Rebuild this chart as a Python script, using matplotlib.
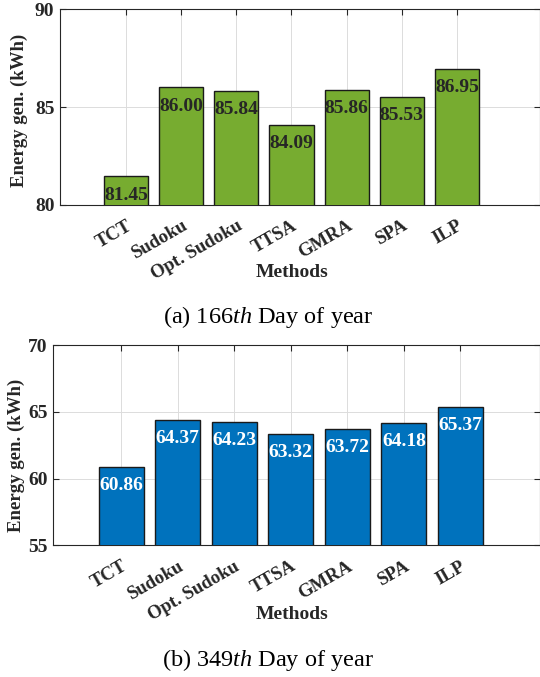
import numpy as np
import matplotlib
matplotlib.use("Agg")
import matplotlib.pyplot as plt

plt.rcParams['font.family'] = ['Liberation Serif', 'DejaVu Serif']
plt.rcParams['mathtext.fontset'] = 'custom'
plt.rcParams['mathtext.rm'] = 'Liberation Serif'
plt.rcParams['mathtext.it'] = 'Liberation Serif:italic'

methods = ["TCT", "Sudoku", "Opt. Sudoku", "TTSA", "GMRA", "SPA", "ILP"]
energy_166 = [81.45, 86.00, 85.84, 84.09, 85.86, 85.53, 86.95]
energy_349 = [60.86, 64.37, 64.23, 63.32, 63.72, 64.18, 65.37]

W, H = 540, 677
DARK = "#262626"


def px_axes(fig, left, right, top, bottom):
    return fig.add_axes([left / W, 1 - bottom / H, (right - left) / W, (bottom - top) / H])


def draw(ax, vals, color, txtcolor, ylim, yticks, xlim, ylab_xy, xlab_xy):
    x = np.arange(len(methods))
    ax.bar(x, vals, width=0.8, color=color, edgecolor="#1a1a1a", linewidth=1.0, zorder=3)
    for xi, v in zip(x, vals):
        ax.annotate("%.2f" % v, (xi, v), xytext=(0, -13.5), textcoords="offset points",
                    ha="center", va="center", fontsize=14, fontweight="bold",
                    color=txtcolor, zorder=4)
    ax.set_ylim(*ylim)
    ax.set_yticks(yticks)
    ax.set_xlim(*xlim)
    ax.set_xticks(x)
    ax.set_xticklabels(methods, rotation=30, ha="right", va="top", rotation_mode="anchor",
                       fontsize=13.5, fontweight="bold", color=DARK)
    for lab in ax.get_yticklabels():
        lab.set_fontsize(14)
        lab.set_fontweight("bold")
        lab.set_color(DARK)
    ax.tick_params(axis="both", direction="in", top=True, right=True, length=4,
                   color=DARK, width=0.8)
    ax.tick_params(axis="x", pad=9)
    ax.tick_params(axis="y", pad=4)
    ax.grid(True, color="#dcdcdc", linewidth=0.7, zorder=0)
    ax.set_axisbelow(True)
    for s in ax.spines.values():
        s.set_color(DARK)
        s.set_linewidth(0.8)
    ax.set_ylabel("Energy gen. (kWh)", fontsize=13.5, fontweight="bold", color=DARK)
    ax.yaxis.set_label_coords(*ylab_xy)
    ax.set_xlabel("Methods", fontsize=14, fontweight="bold", color=DARK)
    ax.xaxis.set_label_coords(*xlab_xy)


fig = plt.figure(figsize=(W / 100, H / 100), dpi=100)

ax1 = px_axes(fig, 60, 539.5, 9.3, 204.7)
draw(ax1, energy_166, "#77AC30", DARK, (80, 90), [80, 85, 90], (-1.2, 7.5),
     (-0.067, 0.485), (0.483, -0.303))

ax2 = px_axes(fig, 53.3, 539.5, 345, 545.3)
draw(ax2, energy_349, "#0072BD", "white", (55, 70), [55, 60, 65, 70], (-1.2, 7.4),
     (-0.058, 0.45), (0.49, -0.303))

fig.text(268 / W, 1 - 317 / H, r"(a) $\mathrm{166}th$ Day of year", ha="center", va="center",
         fontsize=17.5)
fig.text(268 / W, 1 - 660 / H, r"(b) $\mathrm{349}th$ Day of year", ha="center", va="center",
         fontsize=17.5)

fig.savefig("out.png", dpi=100)
